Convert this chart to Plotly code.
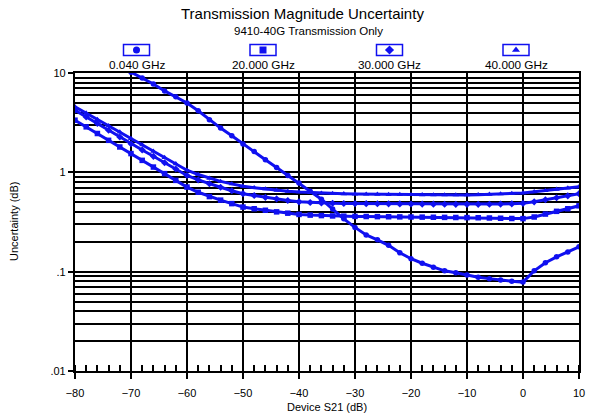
import plotly.graph_objects as go

# ---------------- data ----------------
s21 = list(range(-80, 11, 2))
s21_low = list(range(-70, 11, 2))

unc_0040 = [10.2, 8.9, 7.76, 6.6, 5.75, 4.99, 4.17, 3.39, 2.79, 2.34, 1.93, 1.62, 1.34, 1.12,
            0.93, 0.78, 0.645, 0.537, 0.427, 0.34, 0.279, 0.234, 0.209, 0.184, 0.155, 0.135,
            0.1216, 0.111, 0.102, 0.0977, 0.0923, 0.088, 0.0851, 0.0822, 0.080, 0.0785,
            0.102, 0.123, 0.141, 0.158, 0.178]

unc_20 = [3.35, 2.87, 2.46, 2.10, 1.80, 1.545, 1.32, 1.13, 0.97, 0.83, 0.711, 0.63, 0.57, 0.525,
          0.484, 0.447, 0.43, 0.415, 0.40, 0.388, 0.377, 0.371, 0.367, 0.364, 0.362, 0.36,
          0.359, 0.358, 0.357, 0.356, 0.355, 0.354, 0.353, 0.352, 0.351, 0.35, 0.349, 0.347,
          0.345, 0.343, 0.342, 0.355, 0.38, 0.405, 0.43, 0.46]

unc_30 = [4.22, 3.61, 3.10, 2.65, 2.27, 1.94, 1.68, 1.45, 1.25, 1.08, 0.93, 0.84, 0.767, 0.708,
          0.653, 0.61, 0.585, 0.56, 0.54, 0.52, 0.505, 0.497, 0.492, 0.488, 0.486, 0.485,
          0.484, 0.483, 0.482, 0.481, 0.480, 0.479, 0.478, 0.477, 0.476, 0.476, 0.476, 0.477,
          0.479, 0.482, 0.487, 0.505, 0.53, 0.555, 0.58, 0.61]

unc_40 = [4.57, 3.95, 3.40, 2.94, 2.54, 2.19, 1.89, 1.63, 1.41, 1.22, 1.05, 0.95, 0.87, 0.81,
          0.765, 0.723, 0.70, 0.68, 0.66, 0.645, 0.634, 0.625, 0.617, 0.612, 0.608, 0.605,
          0.603, 0.60, 0.598, 0.597, 0.596, 0.594, 0.593, 0.592, 0.592, 0.593, 0.596, 0.60,
          0.606, 0.612, 0.62, 0.636, 0.655, 0.675, 0.695, 0.715]

legend_labels = ["0.040 GHz", "20.000 GHz", "30.000 GHz", "40.000 GHz"]
legend_symbols = ["circle", "square", "diamond", "triangle-up"]

y_major = [0.01, 0.1, 1, 10]
y_major_text = [".01", ".1", "1", "10"]
y_minor = [m * d for d in (0.01, 0.1, 1) for m in range(2, 10)]
x_ticks = list(range(-80, 11, 10))

# ---------------- layout geometry ----------------
W, H = 594, 416
PX0, PX1, PY0, PY1 = 75, 579, 73, 371
BLUE = "#1010f0"
FONT = "Liberation Sans, Arial, sans-serif"

fig = go.Figure()

series = [(s21_low, unc_0040, "circle"), (s21, unc_20, "square"),
          (s21, unc_30, "diamond"), (s21, unc_40, "triangle-up")]
for xs, ys, sym in series:
    fig.add_trace(go.Scatter(x=xs, y=ys, mode="lines+markers",
                             line=dict(color=BLUE, width=3),
                             marker=dict(symbol=sym, size=5.5, color=BLUE),
                             cliponaxis=True, showlegend=False, hoverinfo="skip"))

# legend glyphs on a pixel overlay axis
leg_x = [136.5, 263, 389.5, 516]
leg_y = 50
fig.add_trace(go.Scatter(x=leg_x, y=[leg_y] * 4, xaxis="x2", yaxis="y2", mode="markers",
                         marker=dict(symbol=legend_symbols, size=7, color=BLUE),
                         showlegend=False, hoverinfo="skip"))

shapes = []
annotations = []
for lx, lab in zip(leg_x, legend_labels):
    shapes.append(dict(type="rect", xref="x2", yref="y2",
                       x0=lx - 13, x1=lx + 13, y0=leg_y - 5.5, y1=leg_y + 5.5,
                       line=dict(color=BLUE, width=1.5)))
    annotations.append(dict(x=lx / W, y=1 - 65 / H, xref="paper", yref="paper",
                            text=lab, showarrow=False, xanchor="center", yanchor="middle",
                            font=dict(family=FONT, size=11.8, color="black")))

annotations += [
    dict(x=302 / W, y=1 - 14 / H, xref="paper", yref="paper", text="Transmission Magnitude Uncertainty",
         showarrow=False, xanchor="center", yanchor="middle", font=dict(family=FONT, size=15, color="black")),
    dict(x=308 / W, y=1 - 31 / H, xref="paper", yref="paper", text="9410-40G Transmission Only",
         showarrow=False, xanchor="center", yanchor="middle", font=dict(family=FONT, size=11.5, color="black")),
    dict(x=14 / W, y=1 - 222 / H, xref="paper", yref="paper", text="Uncertainty (dB)", textangle=-90,
         showarrow=False, xanchor="center", yanchor="middle", font=dict(family=FONT, size=11, color="black")),
    dict(x=327 / W, y=1 - 407 / H, xref="paper", yref="paper", text="Device S21 (dB)",
         showarrow=False, xanchor="center", yanchor="middle", font=dict(family=FONT, size=11, color="black")),
]

fig.update_layout(
    width=W, height=H, margin=dict(l=0, r=0, t=0, b=0, pad=0, autoexpand=False),
    paper_bgcolor="white", plot_bgcolor="rgba(0,0,0,0)",
    font=dict(family=FONT, size=11, color="black"),
    shapes=shapes, annotations=annotations,
    xaxis=dict(domain=[PX0 / W, PX1 / W], range=[-80, 10], tickmode="array", tickvals=x_ticks,
               automargin=False, ticklabelstandoff=5,
               showgrid=True, gridcolor="black", gridwidth=1.6, zeroline=False,
               showline=True, linecolor="black", linewidth=2.2, mirror=True,
               ticks="outside", ticklen=6, tickwidth=1.6, tickcolor="black",
               tickfont=dict(family=FONT, size=11),
               minor=dict(dtick=2, ticks="inside", ticklen=6, tickwidth=1.6, tickcolor="black",
                          showgrid=False)),
    yaxis=dict(domain=[(H - PY1) / H, (H - PY0) / H], type="log", range=[-2, 1],
               tickmode="array", tickvals=y_major, ticktext=y_major_text, automargin=False,
               showgrid=True, gridcolor="black", gridwidth=1.6, zeroline=False,
               showline=True, linecolor="black", linewidth=2.2, mirror=True,
               ticks="outside", ticklen=5, tickwidth=1.6, tickcolor="black",
               tickfont=dict(family=FONT, size=11),
               minor=dict(tickmode="array", tickvals=y_minor, ticks="", showgrid=True,
                          gridcolor="black", gridwidth=1.6)),
    xaxis2=dict(domain=[0, 1], range=[0, W], visible=False, anchor="y2", fixedrange=True,
                automargin=False),
    yaxis2=dict(domain=[0, 1], range=[H, 0], visible=False, anchor="x2", fixedrange=True,
                automargin=False),
)

fig.write_html("out.html")
